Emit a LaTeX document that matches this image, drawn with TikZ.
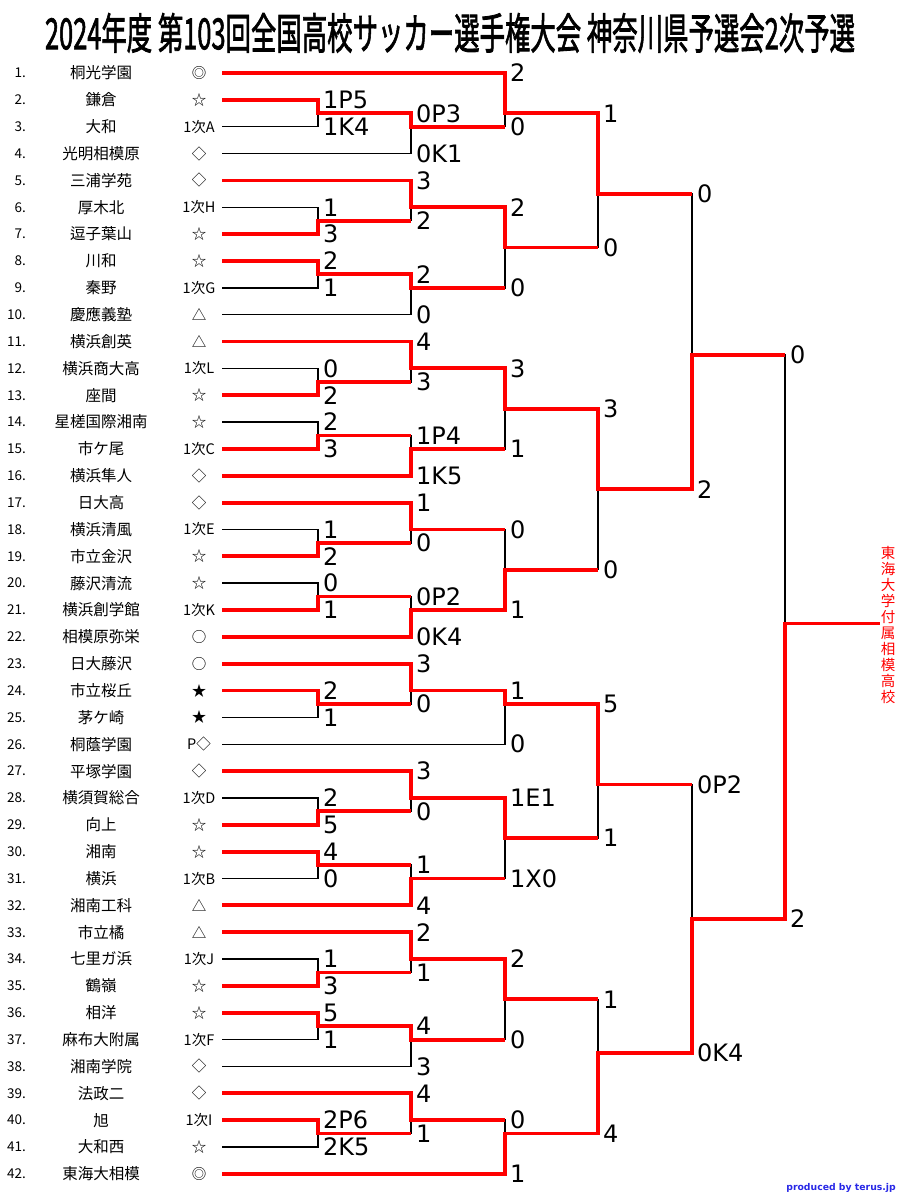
\documentclass[tikz,border=0pt]{standalone}
\usepackage{fontspec}
\setmainfont{Noto Sans CJK JP}
\newfontfamily\scorefont{DejaVu Sans}
\newfontfamily\titlefont{Noto Sans CJK JP}[FakeBold=2]
\usepackage{graphicx}
\definecolor{WinRed}{RGB}{255,0,0}
\definecolor{CreditBlue}{RGB}{40,40,230}

\def\teamlist{1/桐光学園/◎, 2/鎌倉/☆, 3/大和/1次A, 4/光明相模原/◇, 5/三浦学苑/◇,
6/厚木北/1次H, 7/逗子葉山/☆, 8/川和/☆, 9/秦野/1次G, 10/慶應義塾/△,
11/横浜創英/△, 12/横浜商大高/1次L, 13/座間/☆, 14/星槎国際湘南/☆, 15/市ケ尾/1次C,
16/横浜隼人/◇, 17/日大高/◇, 18/横浜清風/1次E, 19/市立金沢/☆, 20/藤沢清流/☆,
21/横浜創学館/1次K, 22/相模原弥栄/○, 23/日大藤沢/○, 24/市立桜丘/★, 25/茅ケ崎/★,
26/桐蔭学園/P◇, 27/平塚学園/◇, 28/横須賀総合/1次D, 29/向上/☆, 30/湘南/☆,
31/横浜/1次B, 32/湘南工科/△, 33/市立橘/△, 34/七里ガ浜/1次J, 35/鶴嶺/☆,
36/相洋/☆, 37/麻布大附属/1次F, 38/湘南学院/◇, 39/法政二/◇, 40/旭/1次I,
41/大和西/☆, 42/東海大相模/◎}

% match / x / y / upper / lower / winner / next / upper score / lower score
\def\matchlist{a1/318/2.5/t2/t3/t2/b1/1P5/1K4, a2/318/6.5/t6/t7/t7/b2/1/3,
a3/318/8.5/t8/t9/t8/b3/2/1, a4/318/12.5/t12/t13/t13/b4/0/2,
a5/318/14.5/t14/t15/t15/b5/2/3, a6/318/18.5/t18/t19/t19/b6/1/2,
a7/318/20.5/t20/t21/t21/b7/0/1, a8/318/24.5/t24/t25/t24/b8/2/1,
a9/318/28.5/t28/t29/t29/b9/2/5, a10/318/30.5/t30/t31/t30/b10/4/0,
a11/318/34.5/t34/t35/t35/b11/1/3, a12/318/36.5/t36/t37/t36/b12/5/1,
a13/318/40.5/t40/t41/t40/b13/2P6/2K5,
b1/411/3/a1/t4/a1/c1/0P3/0K1, b2/411/6/t5/a2/t5/c2/3/2,
b3/411/9/a3/t10/a3/c2/2/0, b4/411/12/t11/a4/t11/c3/4/3,
b5/411/15/a5/t16/t16/c3/1P4/1K5, b6/411/18/t17/a6/t17/c4/1/0,
b7/411/21/a7/t22/t22/c4/0P2/0K4, b8/411/24/t23/a8/t23/c5/3/0,
b9/411/28/t27/a9/t27/c6/3/0, b10/411/31/a10/t32/t32/c6/1/4,
b11/411/34/t33/a11/t33/c7/2/1, b12/411/37/a12/t38/a12/c7/4/3,
b13/411/40/t39/a13/t39/c8/4/1,
c1/505/2.5/t1/b1/t1/d1/2/0, c2/505/7.5/b2/b3/b2/d1/2/0,
c3/505/13.5/b4/b5/b4/d2/3/1, c4/505/19.5/b6/b7/b7/d2/0/1,
c5/505/24.5/b8/t26/b8/d3/1/0, c6/505/29.5/b9/b10/b9/d3/1E1/1X0,
c7/505/35.5/b11/b12/b11/d4/2/0, c8/505/40.5/b13/t42/t42/d4/0/1,
d1/598/5.5/c1/c2/c1/e1/1/0, d2/598/16.5/c3/c4/c3/e1/3/0,
d3/598/27.5/c5/c6/c5/e2/5/1, d4/598/37.5/c7/c8/c8/e2/1/4,
e1/692/11.5/d1/d2/d2/f1/0/2, e2/692/32.5/d3/d4/d4/f1/0P2/0K4,
f1/785/21.5/e1/e2/e2/champ/0/2}

\begin{document}
\begin{tikzpicture}[x=1pt, y=-26.85pt,
  numtxt/.style={anchor=east, inner sep=0pt, font=\fontsize{13.5}{13.5}\selectfont},
  nametxt/.style={inner sep=0pt, font=\fontsize{15.5}{15.5}\selectfont},
  marktxt/.style={inner sep=0pt, font=\fontsize{14.5}{14.5}\selectfont},
  score/.style={anchor=west, inner sep=0pt, xshift=5pt, font=\scorefont\fontsize{24}{24}\selectfont},
  loser/.style={black, line width=1.5pt},
  winner/.style={WinRed, line width=3.8pt}]
\useasboundingbox (0,-1.7188) rectangle (900,42.9739);

\node (title) at (450,-0.49) {\resizebox*{810pt}{40pt}{\titlefont 2024年度 第103回全国高校サッカー選手権大会 神奈川県予選会2次予選}};

\foreach \n/\nm/\mk in \teamlist {
  \node[numtxt] (num\n) at (26,\n) {\n.};
  \node[nametxt] (name\n) at (101,\n) {\nm};
  \node[marktxt] (mark\n) at (199,\n) {\mk};
  \coordinate (t\n) at (222,\n);
}
\coordinate (champ) at (880,21.5);

\foreach \m/\x/\y/\hi/\lo/\w/\up/\sh/\sl in \matchlist
  \coordinate (\m) at (\x,\y);

\foreach \m/\x/\y/\hi/\lo/\w/\up/\sh/\sl in \matchlist {
  \draw[loser] (\hi) -| (\m);
  \draw[loser] (\lo) -| (\m);
  \node[score] (\m-hi) at (\hi -| \m) {\sh};
  \node[score] (\m-lo) at (\lo -| \m) {\sl};
}
\foreach \m/\x/\y/\hi/\lo/\w/\up/\sh/\sl in \matchlist
  \draw[winner] (\w) -| (\m) -- (\m -| \up);

\node[WinRed, align=center, inner sep=0pt, font=\fontsize{14.5}{16}\selectfont] (champname) at (888,21.56)
  {東\\海\\大\\学\\付\\属\\相\\模\\高\\校};
\node[anchor=east, inner sep=0pt, text=CreditBlue, font=\scorefont\bfseries\fontsize{9.3}{9.3}\selectfont] (credit) at (896,42.53) {produced by terus.jp};
\end{tikzpicture}
\end{document}
